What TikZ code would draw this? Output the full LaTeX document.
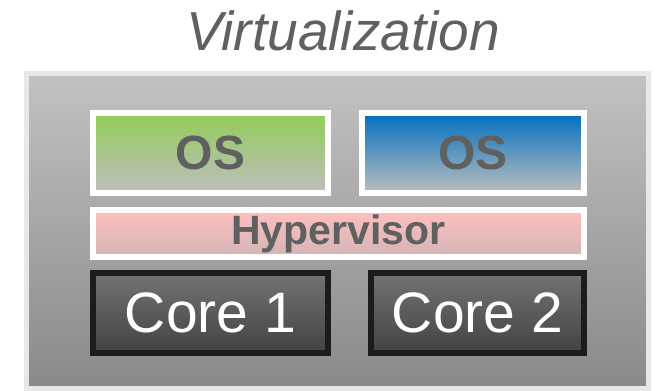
\documentclass[tikz,border=0pt]{standalone}
\usepackage{fontspec}
\setmainfont{Liberation Sans}
\begin{document}
\begin{tikzpicture}[x=1pt,y=-1pt,
  box/.style={rectangle,inner sep=0pt,outer sep=0pt,shading angle=0},
  osbox/.style={box,draw=white,line width=6pt,text=labelgray,font=\fontsize{48}{48}\selectfont\bfseries},
  corebox/.style={box,draw=coreedge,line width=6pt,top color=coretop,bottom color=corebot,text=white,font=\fontsize{57}{57}\selectfont}]
\definecolor{labelgray}{HTML}{606060}
\definecolor{frameedge}{HTML}{E8E8E8}
\definecolor{frametop}{HTML}{C2C2C2}
\definecolor{framebot}{HTML}{898989}
\definecolor{greentop}{HTML}{92CD58}
\definecolor{bluetop}{HTML}{0070C0}
\definecolor{osbot}{HTML}{BEBEBE}
\definecolor{pinktop}{HTML}{FFBFBF}
\definecolor{pinkbot}{HTML}{D3B5B5}
\definecolor{coreedge}{HTML}{1C1C1C}
\definecolor{coretop}{HTML}{737373}
\definecolor{corebot}{HTML}{424242}
\useasboundingbox (0,0) rectangle (659,391);
% title
\node[anchor=base,text=labelgray,font=\fontsize{55}{55}\selectfont\itshape] (title) at (343,50) {Virtualization};
% outer machine frame
\node[box,draw=frameedge,line width=5pt,top color=frametop,bottom color=framebot,
  minimum width=622pt,minimum height=315pt] (frame) at (337.5,231) {};
% guest operating systems
\node[osbox,top color=greentop,bottom color=osbot,minimum width=235pt,minimum height=80pt] (os1) at (210.5,153) {OS};
\node[osbox,top color=bluetop,bottom color=osbot,minimum width=222pt,minimum height=80pt] (os2) at (473,153) {OS};
% hypervisor layer
\node[box,draw=white,line width=6pt,top color=pinktop,bottom color=pinkbot,text=labelgray,
  font=\fontsize{41}{41}\selectfont\bfseries,minimum width=491pt,minimum height=47pt] (hyp) at (338.5,233.5) {\raisebox{-2pt}{Hypervisor}};
% physical cores
\node[corebox,minimum width=235pt,minimum height=80pt] (core1) at (210.5,313) {Core 1};
\node[corebox,minimum width=213pt,minimum height=80pt] (core2) at (477.5,313) {Core 2};
\end{tikzpicture}
\end{document}
